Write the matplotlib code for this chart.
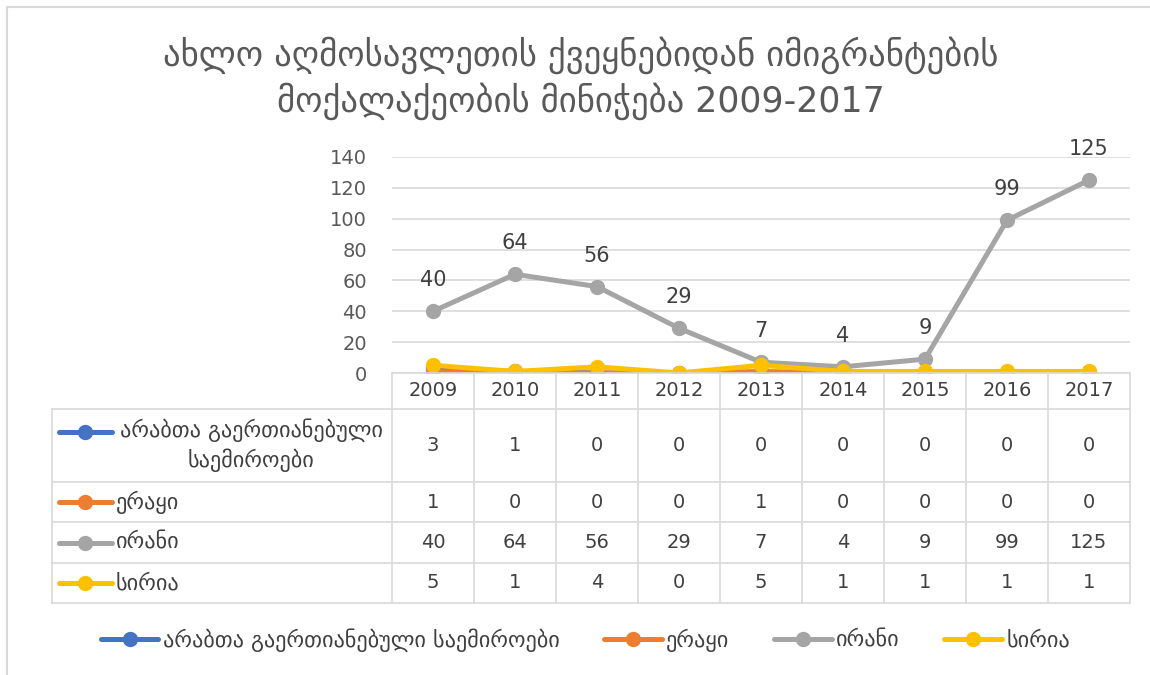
import matplotlib
matplotlib.use("Agg")
import matplotlib.pyplot as plt
from matplotlib.lines import Line2D
from matplotlib.patches import Rectangle
from matplotlib.transforms import blended_transform_factory

plt.rcParams['font.family'] = ['DejaVu Sans']

years = ["2009", "2010", "2011", "2012", "2013", "2014", "2015", "2016", "2017"]
series_names = ["არაბთა გაერთიანებული საემიროები", "ერაყი", "ირანი", "სირია"]
table_names = ["არაბთა გაერთიანებული\nსაემიროები", "ერაყი", "ირანი", "სირია"]
uae = [3, 1, 0, 0, 0, 0, 0, 0, 0]
iraq = [1, 0, 0, 0, 1, 0, 0, 0, 0]
iran = [40, 64, 56, 29, 7, 4, 9, 99, 125]
syria = [5, 1, 4, 0, 5, 1, 1, 1, 1]
colors = ["#4472C4", "#ED7D31", "#A5A5A5", "#FFC000"]
title = "ახლო აღმოსავლეთის ქვეყნებიდან იმიგრანტების\nმოქალაქეობის მინიჭება 2009-2017"

W, H = 1150, 675
fig = plt.figure(figsize=(W / 100, H / 100), dpi=100)


def fy(p):
    return 1 - p / H


def fx(p):
    return p / W


# chart frame
fig.add_artist(Rectangle((fx(7), fy(H + 10)), fx(W + 10), fy(7) - fy(H + 10),
                         transform=fig.transFigure, fill=False,
                         edgecolor="#D9D9D9", lw=1.5))

fig.text(0.505, fy(78), title, ha="center", va="center", fontsize=25,
         color="#595959", linespacing=1.3)

ax = fig.add_axes([fx(392), fy(373), fx(1130 - 392), fy(157) - fy(373)])
x = list(range(len(years)))
all_series = [uae, iraq, iran, syria]
for vals, name, c in zip(all_series, series_names, colors):
    ax.plot(x, vals, color=c, lw=3.6, marker="o", ms=10, label=name,
            solid_capstyle="round")

for xi, v in zip(x, iran):
    ax.annotate(str(v), (xi, v), xytext=(0, 15), textcoords="offset points",
                ha="center", va="bottom", fontsize=15, color="#404040")

ax.set_xlim(-0.5, len(years) - 0.5)
ax.set_ylim(0, 140)
ax.set_yticks(range(0, 141, 20))
ax.tick_params(axis="y", length=0, labelsize=14, labelcolor="#595959", pad=18)
ax.set_xticks([])
ax.grid(axis="y", color="#D9D9D9", lw=1.2)
ax.set_axisbelow(True)
for s in ["top", "right", "left"]:
    ax.spines[s].set_visible(False)
ax.spines["bottom"].set_color("#D9D9D9")
ax.spines["bottom"].set_linewidth(1.2)

# data table under the axis
tr = blended_transform_factory(ax.transData, fig.transFigure)
grid_c = "#D9D9D9"
row_edges = [373, 409, 482, 522, 563, 603]
x_left = -0.5 - (392 - 52) / 82.0

for i in range(len(years) + 1):
    fig.add_artist(Line2D([i - 0.5, i - 0.5], [fy(373), fy(603)], transform=tr,
                          color=grid_c, lw=1.2))
fig.add_artist(Line2D([x_left, x_left], [fy(409), fy(603)], transform=tr,
                      color=grid_c, lw=1.2))
for r in row_edges[1:]:
    fig.add_artist(Line2D([x_left, len(years) - 0.5], [fy(r), fy(r)],
                          transform=tr, color=grid_c, lw=1.2))

yc = (row_edges[0] + row_edges[1]) / 2
for i, yr in enumerate(years):
    fig.text(i, fy(yc), yr, transform=tr, ha="center", va="center",
             fontsize=14, color="#404040")

for k, (vals, name, c) in enumerate(zip(all_series, table_names, colors)):
    top, bot = row_edges[k + 1], row_edges[k + 2]
    mid = (top + bot) / 2
    for i, v in enumerate(vals):
        fig.text(i, fy(mid), str(v), transform=tr, ha="center", va="center",
                 fontsize=14, color="#404040")
    key_y = top + 23 if "\n" in name else mid
    fig.add_artist(Line2D([fx(59), fx(112)], [fy(key_y), fy(key_y)],
                          transform=fig.transFigure, color=c, lw=3.6,
                          solid_capstyle="round"))
    fig.add_artist(Line2D([fx(85)], [fy(key_y)], transform=fig.transFigure,
                          color=c, marker="o", ms=10))
    if "\n" in name:
        fig.text(fx(251), fy(mid), name, ha="center", va="center",
                 fontsize=16, color="#404040", linespacing=1.35)
    else:
        fig.text(fx(116), fy(mid), name, ha="left", va="center",
                 fontsize=16, color="#404040")

handles, labels = ax.get_legend_handles_labels()
fig.legend(handles, labels, loc="center", bbox_to_anchor=(0.509, fy(640)),
           ncol=4, frameon=False, fontsize=16, handlelength=2.6,
           columnspacing=2.0, handletextpad=0.2, labelcolor="#404040")

fig.savefig("out.png", dpi=100)
